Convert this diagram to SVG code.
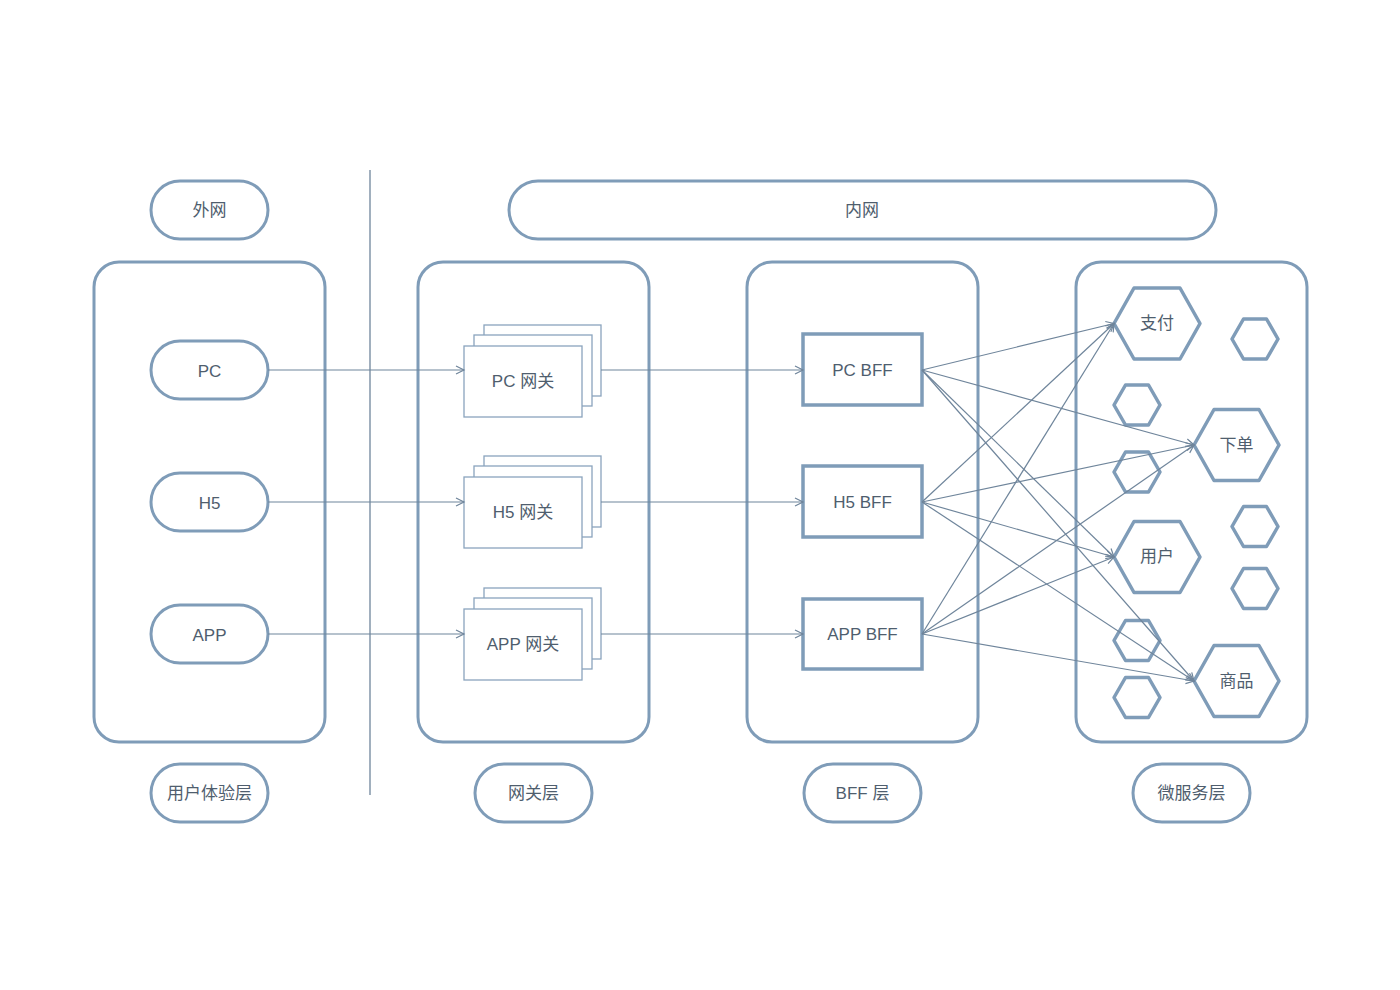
<svg xmlns="http://www.w3.org/2000/svg" width="1400" height="990" viewBox="0 0 1400 990">
<style>
.cont{fill:none;stroke:#7f9cb8;stroke-width:3}
.pill{fill:#fff;stroke:#7f9cb8;stroke-width:3}
.gw{fill:#fff;stroke:#8aa4bd;stroke-width:1.3}
.bff{fill:#fff;stroke:#7f9cb8;stroke-width:3.5}
.hex{fill:#fff;stroke:#7f9cb8;stroke-width:3.5;stroke-linejoin:round}
.txt{font-family:"Liberation Sans","Noto Sans CJK SC",sans-serif;font-size:17px;fill:#4f5e6e;text-anchor:middle;dominant-baseline:central}
.con{fill:none;stroke:#6f859b;stroke-width:1.2}
</style>
<defs>
<marker id="arr" markerUnits="userSpaceOnUse" markerWidth="12" markerHeight="12" refX="9" refY="5" orient="auto">
<path d="M1,1 L9,5 L1,9" fill="none" stroke="#6f859b" stroke-width="1.2"/>
</marker>
</defs>
<rect width="1400" height="990" fill="#fff"/>
<g id="divider"><line x1="370" y1="170" x2="370" y2="795" stroke="#6f859b" stroke-width="1.3"/></g>
<g id="containers">
<rect class="cont" x="94" y="262" width="231" height="480" rx="25"/>
<rect class="cont" x="418" y="262" width="231" height="480" rx="25"/>
<rect class="cont" x="747" y="262" width="231" height="480" rx="25"/>
<rect class="cont" x="1076" y="262" width="231" height="480" rx="25"/>
</g>
<g id="waiwang"><rect class="pill" x="151" y="181" width="117" height="58" rx="29"/><text class="txt" x="209.5" y="210">外网</text></g>
<g id="neiwang"><rect class="pill" x="509" y="181" width="707" height="58" rx="29"/><text class="txt" x="862" y="210">内网</text></g>
<g id="layer1"><rect class="pill" x="151" y="764" width="117" height="58" rx="29"/><text class="txt" x="209.5" y="793">用户体验层</text></g>
<g id="layer2"><rect class="pill" x="475" y="764" width="117" height="58" rx="29"/><text class="txt" x="533.5" y="793">网关层</text></g>
<g id="layer3"><rect class="pill" x="804" y="764" width="117" height="58" rx="29"/><text class="txt" x="862.5" y="793">BFF 层</text></g>
<g id="layer4"><rect class="pill" x="1133" y="764" width="117" height="58" rx="29"/><text class="txt" x="1191.5" y="793">微服务层</text></g>
<g id="pc"><rect class="pill" x="151" y="341" width="117" height="58" rx="29"/><text class="txt" x="209.5" y="371">PC</text></g>
<g id="h5"><rect class="pill" x="151" y="473" width="117" height="58" rx="29"/><text class="txt" x="209.5" y="503">H5</text></g>
<g id="app"><rect class="pill" x="151" y="605" width="117" height="58" rx="29"/><text class="txt" x="209.5" y="635">APP</text></g>
<g id="pcgw">
<rect class="gw" x="484" y="325" width="117" height="71"/>
<rect class="gw" x="474" y="335" width="118" height="71"/>
<rect class="gw" x="464" y="346" width="118" height="71"/>
<text class="txt" x="523" y="381">PC 网关</text>
</g>
<g id="h5gw">
<rect class="gw" x="484" y="456" width="117" height="71"/>
<rect class="gw" x="474" y="466" width="118" height="71"/>
<rect class="gw" x="464" y="477" width="118" height="71"/>
<text class="txt" x="523" y="512">H5 网关</text>
</g>
<g id="appgw">
<rect class="gw" x="484" y="588" width="117" height="71"/>
<rect class="gw" x="474" y="598" width="118" height="71"/>
<rect class="gw" x="464" y="609" width="118" height="71"/>
<text class="txt" x="523" y="644">APP 网关</text>
</g>
<g id="pcbff"><rect class="bff" x="803" y="334" width="119" height="71"/><text class="txt" x="862.5" y="370">PC BFF</text></g>
<g id="h5bff"><rect class="bff" x="803" y="466" width="119" height="71"/><text class="txt" x="862.5" y="502">H5 BFF</text></g>
<g id="appbff"><rect class="bff" x="803" y="599" width="119" height="70"/><text class="txt" x="862.5" y="634">APP BFF</text></g>
<g id="zhifu"><polygon class="hex" points="1114,323.5 1134,288 1180,288 1200,323.5 1180,359 1134,359"/><text class="txt" x="1157" y="323">支付</text></g>
<g id="xiadan"><polygon class="hex" points="1194,445 1214,409.5 1259,409.5 1279,445 1259,480.5 1214,480.5"/><text class="txt" x="1236.5" y="445">下单</text></g>
<g id="yonghu"><polygon class="hex" points="1114,557 1134,521.5 1180,521.5 1200,557 1180,592.5 1134,592.5"/><text class="txt" x="1157" y="556">用户</text></g>
<g id="shangpin"><polygon class="hex" points="1194,681 1214,645.5 1259,645.5 1279,681 1259,716.5 1214,716.5"/><text class="txt" x="1236.5" y="681">商品</text></g>
<g id="hex-s1"><polygon class="hex" points="1232,339 1243.5,319 1266.5,319 1278,339 1266.5,359 1243.5,359"/></g>
<g id="hex-s2"><polygon class="hex" points="1114,405 1125.5,385 1148.5,385 1160,405 1148.5,425 1125.5,425"/></g>
<g id="hex-s3"><polygon class="hex" points="1114,472 1125.5,452 1148.5,452 1160,472 1148.5,492 1125.5,492"/></g>
<g id="hex-s4"><polygon class="hex" points="1232,526.5 1243.5,506.5 1266.5,506.5 1278,526.5 1266.5,546.5 1243.5,546.5"/></g>
<g id="hex-s5"><polygon class="hex" points="1232,588.5 1243.5,568.5 1266.5,568.5 1278,588.5 1266.5,608.5 1243.5,608.5"/></g>
<g id="hex-s6"><polygon class="hex" points="1114,640.5 1125.5,620.5 1148.5,620.5 1160,640.5 1148.5,660.5 1125.5,660.5"/></g>
<g id="hex-s7"><polygon class="hex" points="1114,697.5 1125.5,677.5 1148.5,677.5 1160,697.5 1148.5,717.5 1125.5,717.5"/></g>
<g id="connectors">
<line class="con" x1="268" y1="370" x2="464" y2="370" marker-end="url(#arr)"/>
<line class="con" x1="268" y1="502" x2="464" y2="502" marker-end="url(#arr)"/>
<line class="con" x1="268" y1="634" x2="464" y2="634" marker-end="url(#arr)"/>
<line class="con" x1="601" y1="370" x2="803" y2="370" marker-end="url(#arr)"/>
<line class="con" x1="601" y1="502" x2="803" y2="502" marker-end="url(#arr)"/>
<line class="con" x1="601" y1="634" x2="803" y2="634" marker-end="url(#arr)"/>
<line class="con" x1="922" y1="370" x2="1114" y2="323.5" marker-end="url(#arr)"/>
<line class="con" x1="922" y1="370" x2="1194" y2="445" marker-end="url(#arr)"/>
<line class="con" x1="922" y1="370" x2="1114" y2="557" marker-end="url(#arr)"/>
<line class="con" x1="922" y1="370" x2="1194" y2="681" marker-end="url(#arr)"/>
<line class="con" x1="922" y1="502" x2="1114" y2="323.5" marker-end="url(#arr)"/>
<line class="con" x1="922" y1="502" x2="1194" y2="445" marker-end="url(#arr)"/>
<line class="con" x1="922" y1="502" x2="1114" y2="557" marker-end="url(#arr)"/>
<line class="con" x1="922" y1="502" x2="1194" y2="681" marker-end="url(#arr)"/>
<line class="con" x1="922" y1="634" x2="1114" y2="323.5" marker-end="url(#arr)"/>
<line class="con" x1="922" y1="634" x2="1194" y2="445" marker-end="url(#arr)"/>
<line class="con" x1="922" y1="634" x2="1114" y2="557" marker-end="url(#arr)"/>
<line class="con" x1="922" y1="634" x2="1194" y2="681" marker-end="url(#arr)"/>
</g>
</svg>
